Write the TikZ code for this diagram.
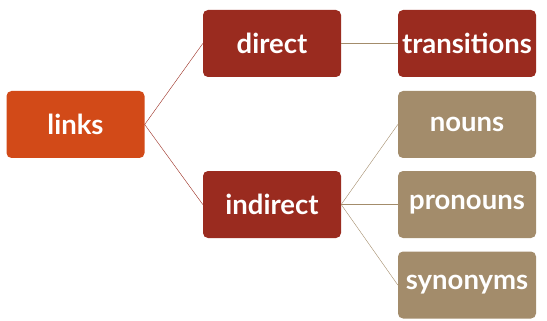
\documentclass[tikz,border=0pt]{standalone}
\usepackage{fontspec}
\setmainfont{Lato}
\definecolor{rootred}{HTML}{D24A18}
\definecolor{darkred}{HTML}{9A2B1F}
\definecolor{tan}{HTML}{A38C6B}
\begin{document}
\begin{tikzpicture}[x=1pt,y=-1pt,
    every box/.style={rounded corners=5pt, minimum width=138pt, minimum height=67pt, inner sep=0pt, text=white, font=\fontsize{27.5}{32}\selectfont\bfseries},
    rootbox/.style={every box, fill=rootred},
    redbox/.style={every box, fill=darkred},
    tanbox/.style={every box, fill=tan},
    redline/.style={draw=darkred, thin},
    tanline/.style={draw=tan, thin}]
                    \useasboundingbox (0,0) rectangle (547,321);
                    \node[rootbox] (links) at (75.5,124.5) {links};
                    \node[redbox] (direct) at (272,43.5) {direct};
                    \node[redbox] (indirect) at (272,204.5) {indirect};
                    \node[redbox] (transitions) at (467,43.5) {transitions};
                    \node[tanbox] (nouns) at (467,124.5) {nouns};
                    \node[tanbox] (pronouns) at (467,204.5) {pronouns};
                    \node[tanbox] (synonyms) at (467,285) {synonyms};
                    \draw[redline] (direct.west) -- (links.east) -- (indirect.west);
                    \draw[tanline] (direct.east) -- (transitions.west);
                    \draw[tanline] (indirect.east) -- (nouns.west);
                    \draw[tanline] (indirect.east) -- (pronouns.west);
                    \draw[tanline] (indirect.east) -- (synonyms.west);
                \end{tikzpicture}
\end{document}
